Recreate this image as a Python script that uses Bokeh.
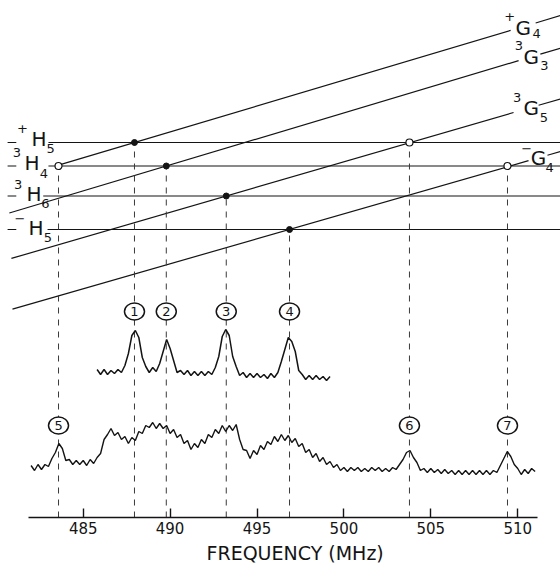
import numpy as np
from bokeh.plotting import figure
from bokeh.models import Range1d, FixedTicker, Title
from bokeh.core.properties import value
from bokeh.embed import file_html
from bokeh.resources import INLINE

# ---------------- data ----------------
tick_values = [485, 490, 495, 500, 505, 510]
axis_bounds = (481.85, 511.13)
x_view = (480.242, 512.46)

# resonance peaks (MHz), the level they sit on, filled/open marker
peak_labels = ["1", "2", "3", "4", "5", "6", "7"]
peak_freq = [487.95, 489.78, 493.23, 496.87, 483.58, 503.77, 509.41]
peak_level = ["+H5", "3H4", "3H6", "-H5", "3H4", "+H5", "3H4"]
peak_filled = [True, True, True, True, False, False, False]
peak_circle_y = [206, 206, 206, 206, 92, 92, 92]

# H levels (horizontal) in diagram units
h_names = ["+H5", "3H4", "3H6", "-H5"]
h_energy = [375.0, 351.5, 321.5, 288.0]
h_line_start = [483.0, 483.0, 482.7, 482.95]
h_dash = (480.65, 481.15)

# G levels (tilted) : value at 500 MHz and slope per MHz
g_names = ["+G4", "3G3", "3G5", "-G4"]
g_energy_500 = [437.4, 404.6, 355.7, 303.7]
g_slope = [5.18, 5.20, 5.05, 5.00]
g_start = [483.58, 480.75, 480.87, 480.93]
g_gap = [(509.59, 511.03), (510.05, 511.30), (509.76, 511.20), (510.62, 511.71)]

# upper spectrum trace (sampled every 0.2 MHz)
upper_start, upper_step, upper_offset = 485.8, 0.2, 145
upper_signal = [3, -2, 3, -2, 2, -1, 3, 0, 7, 19,
                37, 42, 35, 15, 6, 0, 5, 1, 9, 21,
                33, 24, 12, 0, 2, -2, 2, -3, 1, -3,
                1, -3, 1, -2, 5, 16, 36, 43, 37, 16,
                6, -3, 0, -5, -1, -5, -1, -5, -2, -6,
                -1, -5, 0, 11, 23, 35, 31, 21, 2, -2,
                -7, -3, -7, -3, -7, -4, -8, -4]

# lower spectrum trace (sampled every 0.2 MHz)
lower_start, lower_step, lower_offset = 482.0, 0.2, 48
lower_signal = [4, -1, 5, 0, 5, 3, 11, 17, 26, 21,
                9, 10, 5, 9, 5, 9, 4, 10, 6, 12,
                16, 30, 35, 41, 34, 37, 30, 33, 26, 32,
                29, 38, 36, 44, 42, 47, 41, 46, 41, 44,
                36, 40, 32, 35, 26, 29, 20, 26, 22, 30,
                26, 35, 32, 40, 36, 44, 38, 44, 39, 45,
                30, 20, 19, 11, 19, 15, 24, 20, 28, 25,
                33, 28, 35, 29, 34, 27, 31, 23, 26, 17,
                20, 12, 16, 8, 12, 5, 8, 2, 5, -1,
                2, -2, 2, -1, 2, -2, 1, -2, 2, -1,
                2, -2, 1, -2, 2, 0, 5, 10, 17, 19,
                12, 7, -1, 1, -3, 1, -3, 0, -4, 0,
                -4, -1, -5, -1, -5, -1, -5, -1, -5, -1,
                -5, -1, -5, -1, -3, 4, 11, 18, 13, 5,
                1, -5, 0, -4, 1, -2]

# level label pieces: (text, x, y, size)
level_label_parts = [
    ("+", 481.51, 389, 13), ("H", 482.46, 379, 20), ("5", 483.12, 369, 13),
    ("3", 481.19, 365, 13), ("H", 482.05, 354.5, 20), ("4", 482.74, 344.5, 13),
    ("3", 481.25, 333, 13), ("H", 482.17, 323.5, 20), ("6", 482.83, 314, 13),
    ("\u2212", 481.36, 299, 13), ("H", 482.28, 289.5, 20), ("5", 482.97, 280, 13),
    ("+", 509.53, 501, 13), ("G", 510.31, 489.5, 20), ("4", 511.08, 484, 13),
    ("3", 510.07, 472, 13), ("G", 510.77, 461, 20), ("3", 511.54, 452, 13),
    ("3", 509.97, 420.3, 13), ("G", 510.77, 409.5, 20), ("5", 511.50, 400, 13),
    ("\u2212", 510.51, 368.7, 13), ("G", 511.20, 359.5, 20), ("4", 511.83, 350.3, 13),
]

axis_title = "FREQUENCY (MHz)"

# ---------------- figure ----------------
FONT = "DejaVu Sans"
INK = "#141414"

p = figure(width=560, height=566, x_range=Range1d(*x_view), y_range=Range1d(0, 517),
           output_backend="svg", toolbar_location=None, y_axis_location=None,
           min_border_left=0, min_border_right=0, min_border_top=0, min_border_bottom=49,
           outline_line_color=None, background_fill_color="white", border_fill_color="white")
p.grid.visible = False

level_y = dict(zip(h_names, h_energy))

# horizontal H levels: short lead dash + main line
x0s, x1s, ys = [], [], []
for name, e, s in zip(h_names, h_energy, h_line_start):
    x0s += [h_dash[0], s]
    x1s += [h_dash[1], x_view[1]]
    ys += [e, e]
p.segment(x0=x0s, y0=ys, x1=x1s, y1=ys, line_color=INK, line_width=1.2)

# tilted G levels, broken by their labels
gx0, gy0, gx1, gy1 = [], [], [], []
for e5, k, s, (a, b) in zip(g_energy_500, g_slope, g_start, g_gap):
    for u, v in [(s, a), (b, x_view[1])]:
        gx0.append(u); gy0.append(e5 + k * (u - 500))
        gx1.append(v); gy1.append(e5 + k * (v - 500))
p.segment(x0=gx0, y0=gy0, x1=gx1, y1=gy1, line_color=INK, line_width=1.2)

# dashed drop lines from crossings to the axis
dot_y = [level_y[n] for n in peak_level]
p.segment(x0=peak_freq, y0=[0] * len(peak_freq), x1=peak_freq, y1=dot_y,
          line_color="#3a3a3a", line_width=1, line_dash="6 6")

# spectra
ux = [upper_start + upper_step * i for i in range(len(upper_signal))]
uy = [upper_offset + v for v in upper_signal]
lx = [lower_start + lower_step * i for i in range(len(lower_signal))]
ly = [lower_offset + v for v in lower_signal]
p.line(ux, uy, line_color=INK, line_width=1.5)
p.line(lx, ly, line_color=INK, line_width=1.4)

# numbered circles
p.ellipse(x=peak_freq, y=peak_circle_y, width=20, height=17,
          width_units="screen", height_units="screen",
          fill_color="white", line_color=INK, line_width=1.5)
p.text(x=peak_freq, y=peak_circle_y, text=peak_labels,
       text_font=value(FONT), text_font_size="13px", text_color=INK,
       text_align="center", text_baseline="middle")

# crossing markers
fx = [f for f, fl in zip(peak_freq, peak_filled) if fl]
fy = [y for y, fl in zip(dot_y, peak_filled) if fl]
ox = [f for f, fl in zip(peak_freq, peak_filled) if not fl]
oy = [y for y, fl in zip(dot_y, peak_filled) if not fl]
p.scatter(fx, fy, marker="circle", size=6, fill_color=INK, line_color=INK)
p.scatter(ox, oy, marker="circle", size=7, fill_color="white", line_color=INK, line_width=1.2)

# level labels
for size in (13, 20):
    parts = [t for t in level_label_parts if t[3] == size]
    p.text(x=[t[1] for t in parts], y=[t[2] for t in parts], text=[t[0] for t in parts],
           text_font=value(FONT), text_font_size=f"{size}px", text_color=INK,
           text_align="center", text_baseline="middle")

# x axis
ax = p.xaxis[0]
ax.ticker = FixedTicker(ticks=tick_values)
ax.bounds = axis_bounds
ax.axis_line_width = 1.6
ax.axis_line_color = INK
ax.major_tick_in = 9
ax.major_tick_out = 0
ax.major_tick_line_width = 1.4
ax.major_tick_line_color = INK
ax.minor_tick_line_color = None
ax.major_label_text_font = FONT
ax.major_label_text_font_size = "15px"
ax.major_label_text_color = INK
ax.major_label_standoff = 4

p.add_layout(Title(text=axis_title, align="left", offset=206, standoff=6,
                   text_font=FONT, text_font_size="19px", text_font_style="normal",
                   text_color=INK), "below")

open("out.html", "w").write(file_html(p, INLINE))
